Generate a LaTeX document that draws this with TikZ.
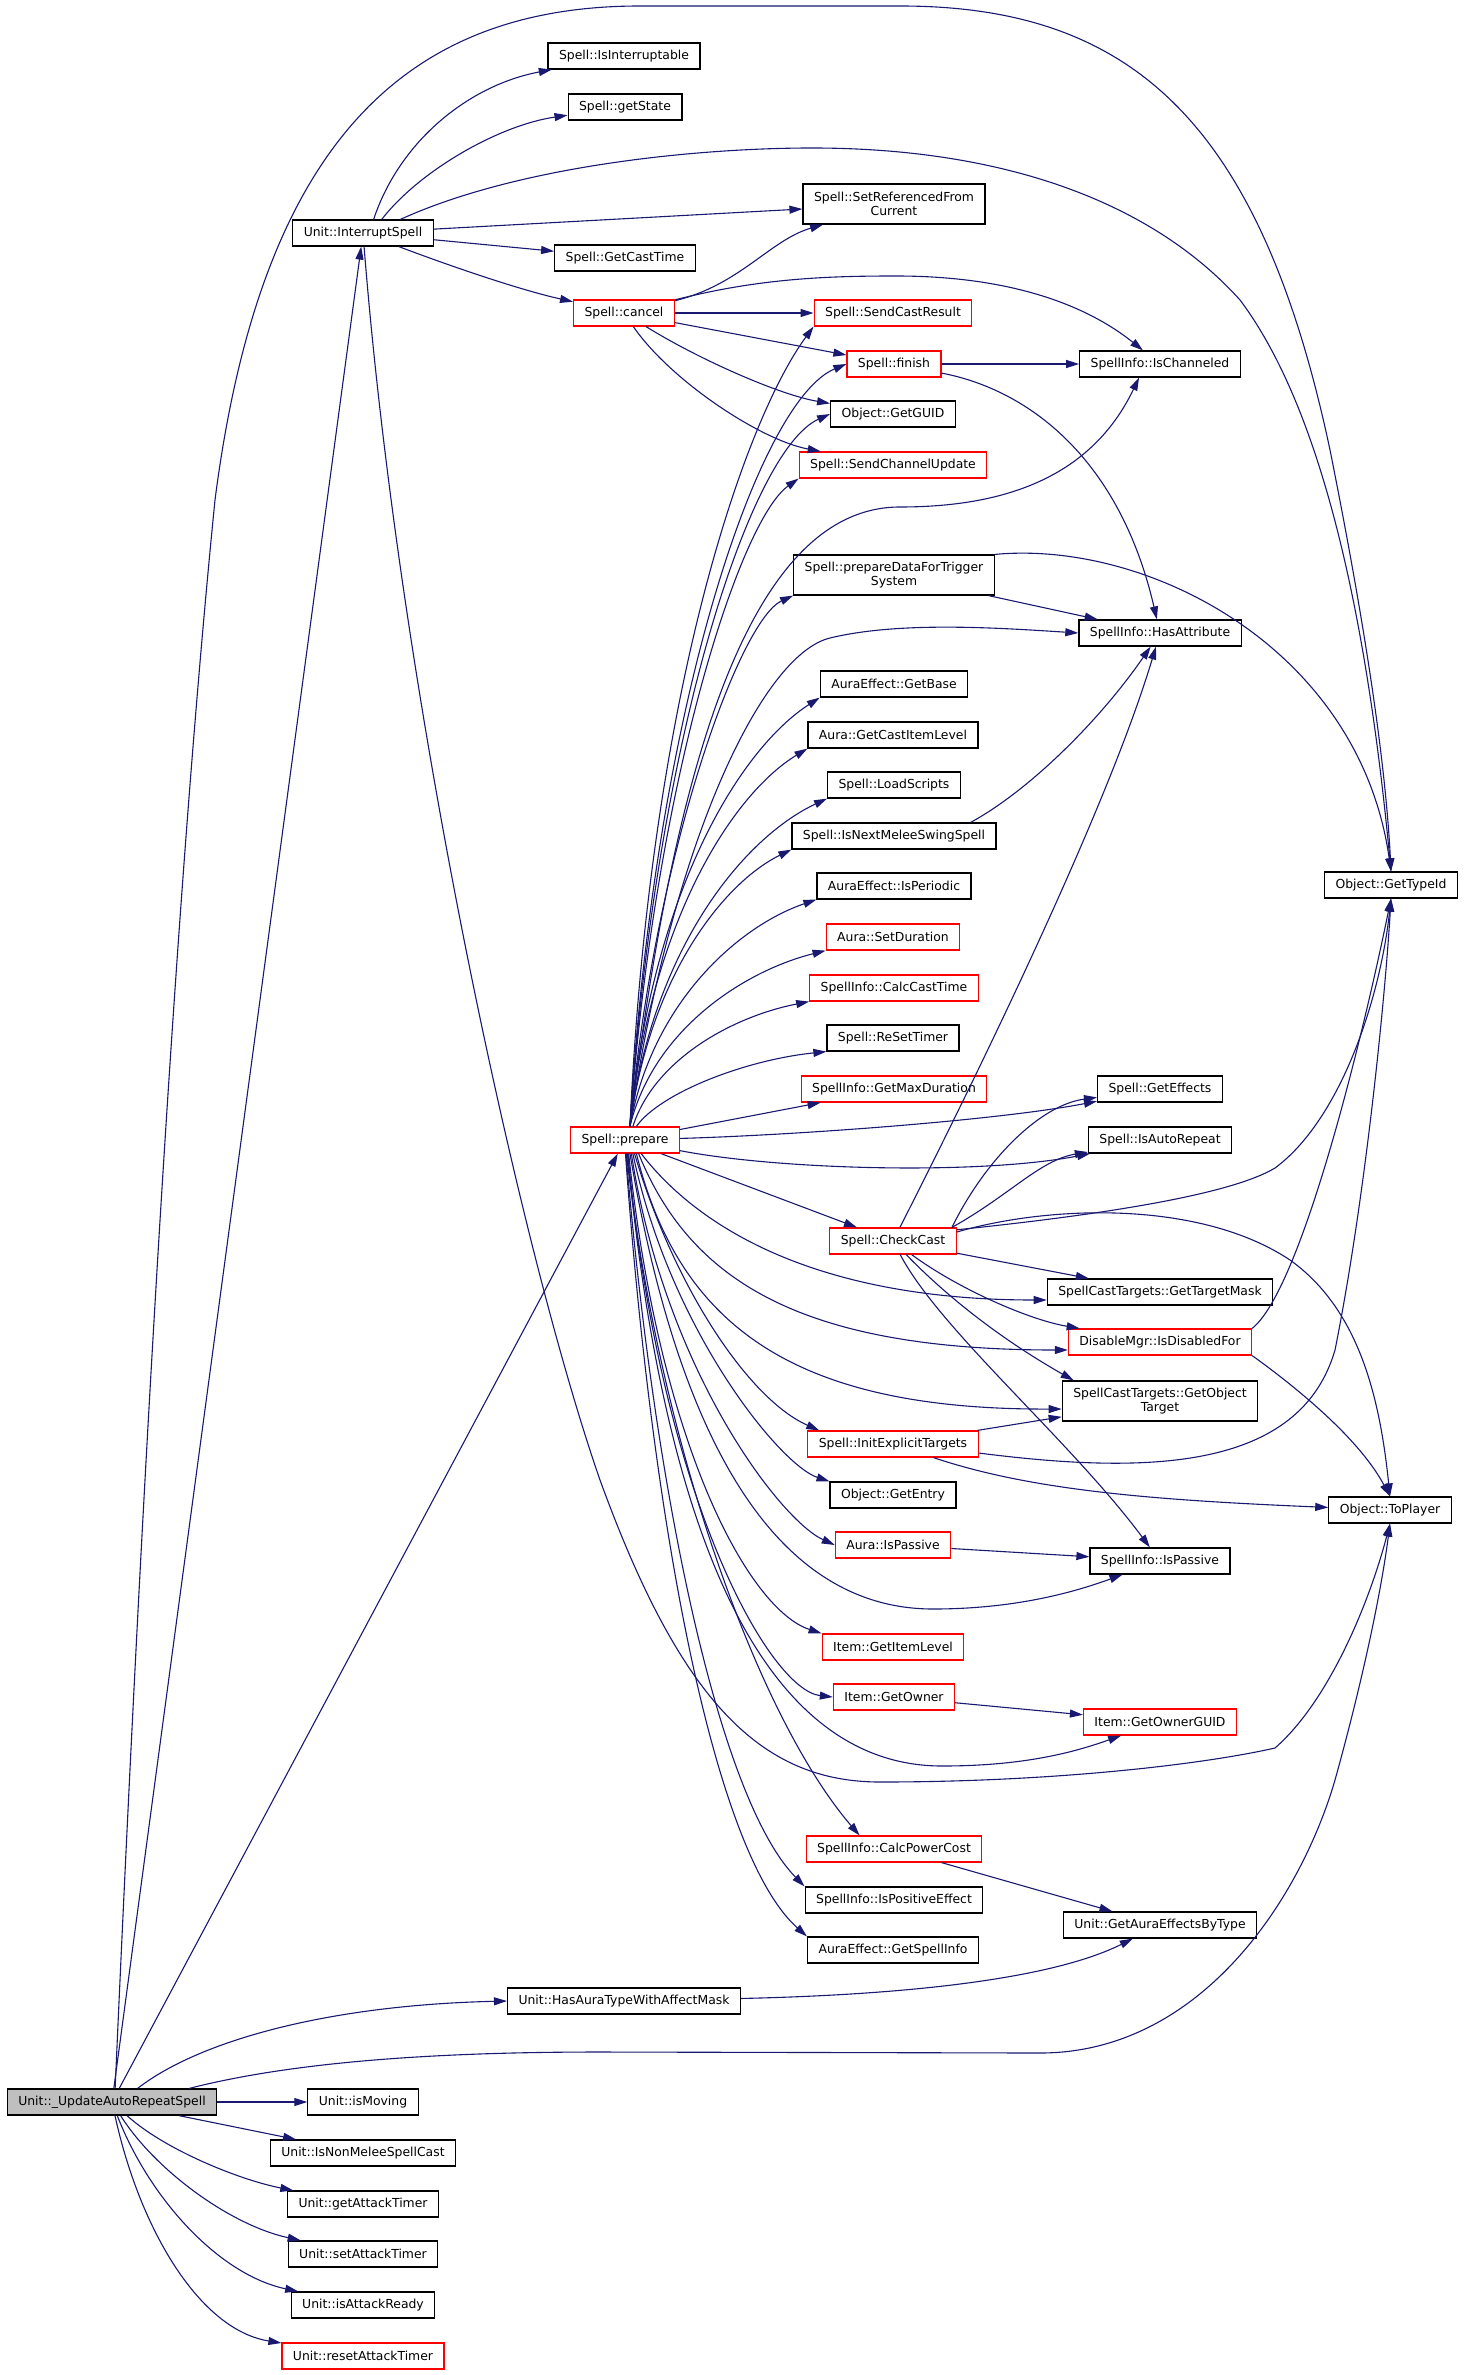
\documentclass[tikz,border=0pt]{standalone}
\usepackage{fontspec}
\setmainfont{DejaVu Sans}
\usepackage{xcolor}
\usetikzlibrary{arrows.meta}
\definecolor{edgeblue}{HTML}{191970}
\definecolor{rootgray}{HTML}{BFBFBF}

\tikzset{
  fn/.style={draw=black, line width=0.6pt, fill=white, font=\fontsize{6.2}{7}\selectfont,
    inner xsep=5.5pt, inner ysep=1pt, minimum height=13pt},
  fnred/.style={fn, draw=red},
  fntwo/.style={fn, align=center, minimum height=20pt},
  fnroot/.style={fn, fill=rootgray},
  call/.style={draw=edgeblue, line width=0.55pt, -{Triangle[length=6.5pt,width=4pt]}},
}

\begin{document}
\begin{tikzpicture}[x=0.5pt, y=-0.5pt]
\useasboundingbox (0,0) rectangle (1463,2375);

\node[fnroot] (upd) at (112,2102) {Unit::\_UpdateAutoRepeatSpell};
\node[fn] (int) at (363,233) {Unit::InterruptSpell};
\node[fn] (iint) at (624,56) {Spell::IsInterruptable};
\node[fn] (gst) at (625,107) {Spell::getState};
\node[fntwo] (setref) at (894,204) {Spell::SetReferencedFrom\\Current};
\node[fn] (gct) at (625,258) {Spell::GetCastTime};
\node[fnred] (cancel) at (624,313) {Spell::cancel};
\node[fnred] (scr) at (893,313) {Spell::SendCastResult};
\node[fnred] (fin) at (894,364) {Spell::finish};
\node[fn] (chan) at (1160,364) {SpellInfo::IsChanneled};
\node[fn] (guid) at (893,414) {Object::GetGUID};
\node[fnred] (scu) at (893,465) {Spell::SendChannelUpdate};
\node[fntwo] (pdt) at (894,575) {Spell::prepareDataForTrigger\\System};
\node[fn] (hasattr) at (1160,633) {SpellInfo::HasAttribute};
\node[fn] (aegb) at (894,684) {AuraEffect::GetBase};
\node[fn] (gcil) at (893,735) {Aura::GetCastItemLevel};
\node[fn] (lds) at (894,785) {Spell::LoadScripts};
\node[fn] (nms) at (894,836) {Spell::IsNextMeleeSwingSpell};
\node[fn] (per) at (894,886) {AuraEffect::IsPeriodic};
\node[fn] (tid) at (1391,885) {Object::GetTypeId};
\node[fnred] (sdur) at (893,937) {Aura::SetDuration};
\node[fnred] (cct) at (894,988) {SpellInfo::CalcCastTime};
\node[fn] (rst) at (893,1038) {Spell::ReSetTimer};
\node[fnred] (gmd) at (894,1089) {SpellInfo::GetMaxDuration};
\node[fn] (geff) at (1160,1089) {Spell::GetEffects};
\node[fnred] (prep) at (625,1140) {Spell::prepare};
\node[fn] (arep) at (1160,1140) {Spell::IsAutoRepeat};
\node[fnred] (chk) at (893,1241) {Spell::CheckCast};
\node[fn] (gtm) at (1160,1292) {SpellCastTargets::GetTargetMask};
\node[fnred] (dis) at (1160,1342) {DisableMgr::IsDisabledFor};
\node[fntwo] (gobj) at (1160,1401) {SpellCastTargets::GetObject\\Target};
\node[fnred] (iet) at (893,1444) {Spell::InitExplicitTargets};
\node[fn] (gent) at (893,1495) {Object::GetEntry};
\node[fn] (tpl) at (1390,1510) {Object::ToPlayer};
\node[fnred] (apas) at (893,1545) {Aura::IsPassive};
\node[fn] (spas) at (1160,1561) {SpellInfo::IsPassive};
\node[fnred] (gil) at (893,1647) {Item::GetItemLevel};
\node[fnred] (gown) at (894,1697) {Item::GetOwner};
\node[fnred] (gog) at (1160,1722) {Item::GetOwnerGUID};
\node[fnred] (cpc) at (894,1849) {SpellInfo::CalcPowerCost};
\node[fn] (ipe) at (894,1900) {SpellInfo::IsPositiveEffect};
\node[fn] (gaet) at (1160,1925) {Unit::GetAuraEffectsByType};
\node[fn] (aesi) at (893,1950) {AuraEffect::GetSpellInfo};
\node[fn] (hat) at (624,2001) {Unit::HasAuraTypeWithAffectMask};
\node[fn] (mov) at (363,2102) {Unit::isMoving};
\node[fn] (nmc) at (363,2153) {Unit::IsNonMeleeSpellCast};
\node[fn] (gat) at (363,2204) {Unit::getAttackTimer};
\node[fn] (sat) at (363,2254) {Unit::setAttackTimer};
\node[fn] (iar) at (363,2305) {Unit::isAttackReady};
\node[fnred] (rat) at (363,2356) {Unit::resetAttackTimer};

% calls of Unit::_UpdateAutoRepeatSpell
\draw[call] (upd.77) .. controls (150,1300) and (185,800) .. (215,500) .. controls (260,150) and (400,6) .. (640,6) -- (900,6) .. controls (1130,6) and (1260,120) .. (1330,450) .. controls (1360,600) and (1385,750) .. (tid.north);
\draw[call] (upd) -- (int);
\draw[call] (upd) -- (prep);
\draw[call] (upd.28) .. controls (200,2040) and (330,2005) .. (hat.west);
\draw[call] (upd.10) .. controls (300,2060) and (450,2052) .. (600,2052) -- (1040,2053) .. controls (1200,2053) and (1300,1900) .. (1335,1780) .. controls (1360,1690) and (1380,1600) .. (tpl.south);
\draw[call] (upd) -- (mov);
\draw[call] (upd) -- (nmc);
\draw[call] (upd) .. controls (165,2150) and (240,2180) .. (gat);
\draw[call] (upd) .. controls (155,2170) and (230,2225) .. (sat);
\draw[call] (upd) .. controls (150,2200) and (220,2275) .. (iar);
\draw[call] (upd) .. controls (140,2230) and (200,2330) .. (rat);

% calls of Unit::InterruptSpell
\draw[call] (int.52) .. controls (400,140) and (470,85) .. (iint);
\draw[call] (int.36) .. controls (420,170) and (500,125) .. (gst);
\draw[call] (int.20) .. controls (520,165) and (700,148) .. (812,148) .. controls (1000,148) and (1150,200) .. (1240,300) .. controls (1330,420) and (1370,650) .. (tid.north);
\draw[call] (int) -- (setref);
\draw[call] (int) -- (gct);
\draw[call] (int) .. controls (450,266) and (520,290) .. (cancel);
\draw[call] (int) .. controls (400,700) and (520,1250) .. (600,1480) .. controls (680,1700) and (760,1782) .. (880,1782) .. controls (1050,1782) and (1200,1765) .. (1275,1748) .. controls (1330,1700) and (1370,1600) .. (tpl.south);

% calls of Spell::cancel and Spell::finish
\draw[call] (cancel) .. controls (740,285) and (770,240) .. (setref);
\draw[call] (cancel) .. controls (760,278) and (830,276) .. (896,276) .. controls (1000,276) and (1080,300) .. (chan);
\draw[call] (cancel) -- (scr);
\draw[call] (cancel) -- (fin);
\draw[call] (cancel) .. controls (700,360) and (780,395) .. (guid);
\draw[call] (cancel) .. controls (670,380) and (760,440) .. (scu);
\draw[call] (fin) -- (chan);
\draw[call] (fin) .. controls (1030,390) and (1120,460) .. (hasattr);

% calls of Spell::prepare, upwards
\draw[call] (prep.70) .. controls (650,690) and (745,420) .. (scr.south west);
\draw[call] (prep.70) .. controls (655,700) and (760,400) .. (fin.west);
\draw[call] (prep.70) .. controls (655,740) and (750,450) .. (guid.west);
\draw[call] (prep.70) .. controls (655,780) and (740,520) .. (scu.south west);
\draw[call] (prep.70) .. controls (670,800) and (740,507) .. (900,507) .. controls (1000,507) and (1090,480) .. (chan.213);
\draw[call] (prep.70) .. controls (655,850) and (740,620) .. (pdt.south west);
\draw[call] (prep.70) .. controls (670,850) and (760,655) .. (830,638) .. controls (900,621) and (1000,628) .. (hasattr.west);
\draw[call] (prep.70) .. controls (652,891) and (740,749) .. (aegb.south west);
\draw[call] (prep.70) .. controls (651,918) and (734,793) .. (gcil.south west);
\draw[call] (prep.70) .. controls (653,946) and (745,837) .. (lds.south west);
\draw[call] (prep.70) .. controls (650,974) and (725,882) .. (nms.south west);
\draw[call] (prep.70) .. controls (652,1002) and (739,926) .. (per.south west);
\draw[call] (prep.70) .. controls (653,1030) and (744,971) .. (sdur.south west);
\draw[call] (prep.60) .. controls (655,1058) and (735,1016) .. (cct.south west);
\draw[call] (prep.50) .. controls (660,1093) and (745,1060) .. (rst.south west);
\draw[call] (prep) -- ([xshift=10pt]gmd.south west);
\draw[call] (prep) .. controls (800,1135) and (1000,1120) .. (geff);
\draw[call] (prep) .. controls (780,1170) and (980,1175) .. (arep);
\draw[call] (prep) -- (chk);

% calls of Spell::prepare, downwards
\draw[call] (prep.-40) .. controls (700,1230) and (820,1300) .. ([yshift=-4pt]gtm.west);
\draw[call] (prep.-45) .. controls (690,1280) and (800,1350) .. ([yshift=-4pt]dis.west);
\draw[call] (prep.-50) .. controls (680,1330) and (800,1410) .. ([yshift=-4pt]gobj.west);
\draw[call] (prep.-55) .. controls (675,1290) and (750,1400) .. ([xshift=6pt]iet.north west);
\draw[call] (prep.-60) .. controls (670,1330) and (780,1465) .. (gent.north west);
\draw[call] (prep.-65) .. controls (665,1370) and (780,1520) .. (apas.west);
\draw[call] (prep.-70) .. controls (680,1450) and (780,1609) .. (933,1609) .. controls (1020,1609) and (1080,1590) .. (spas);
\draw[call] (prep.-75) .. controls (660,1450) and (750,1610) .. (gil.north west);
\draw[call] (prep.-78) .. controls (660,1500) and (770,1690) .. (gown.west);
\draw[call] (prep.-80) .. controls (670,1600) and (790,1766) .. (942,1766) .. controls (1030,1766) and (1080,1750) .. (gog);
\draw[call] (prep.-84) .. controls (660,1450) and (760,1720) .. ([xshift=27pt]cpc.north west);
\draw[call] (prep.-86) .. controls (655,1500) and (720,1800) .. (ipe.north west);
\draw[call] (prep.-88) .. controls (650,1500) and (710,1850) .. (aesi.north west);

% the rest
\draw[call] (pdt.north east) .. controls (1150,540) and (1360,650) .. (tid.north);
\draw[call] (pdt) -- (hasattr);
\draw[call] ([xshift=-13pt]nms.north east) .. controls (1030,790) and (1100,720) .. (hasattr);
\draw[call] (chk) .. controls (990,1050) and (1110,800) .. (hasattr);
\draw[call] (chk.13) .. controls (985,1160) and (1040,1105) .. (geff);
\draw[call] (chk.13) .. controls (1010,1195) and (1040,1160) .. (arep);
\draw[call] (chk.10) .. controls (1100,1215) and (1230,1195) .. (1275,1168) .. controls (1340,1120) and (1380,1000) .. (tid.south);
\draw[call] (chk.8) .. controls (1050,1205) and (1200,1200) .. (1290,1260) .. controls (1360,1310) and (1380,1400) .. (tpl.north);
\draw[call] (chk) -- (gtm);
\draw[call] (chk) .. controls (960,1290) and (1030,1320) .. (dis);
\draw[call] (chk) .. controls (960,1310) and (1020,1350) .. ([xshift=6pt]gobj.north west);
\draw[call] (chk) .. controls (940,1330) and (1070,1440) .. (spas);
\draw[call] (dis.north east) .. controls (1300,1290) and (1360,1050) .. (tid.south);
\draw[call] (dis.south east) .. controls (1300,1390) and (1360,1440) .. (tpl.north);
\draw[call] (iet) -- (gobj);
\draw[call] (iet.-6) .. controls (1150,1475) and (1300,1470) .. (1335,1350) .. controls (1365,1200) and (1385,1000) .. (tid.south);
\draw[call] (iet) .. controls (1030,1490) and (1150,1500) .. (tpl);
\draw[call] (apas) -- (spas);
\draw[call] (gown) -- (gog);
\draw[call] (cpc) -- (gaet);
\draw[call] (hat) .. controls (900,1995) and (1050,1980) .. (gaet);

\end{tikzpicture}
\end{document}
